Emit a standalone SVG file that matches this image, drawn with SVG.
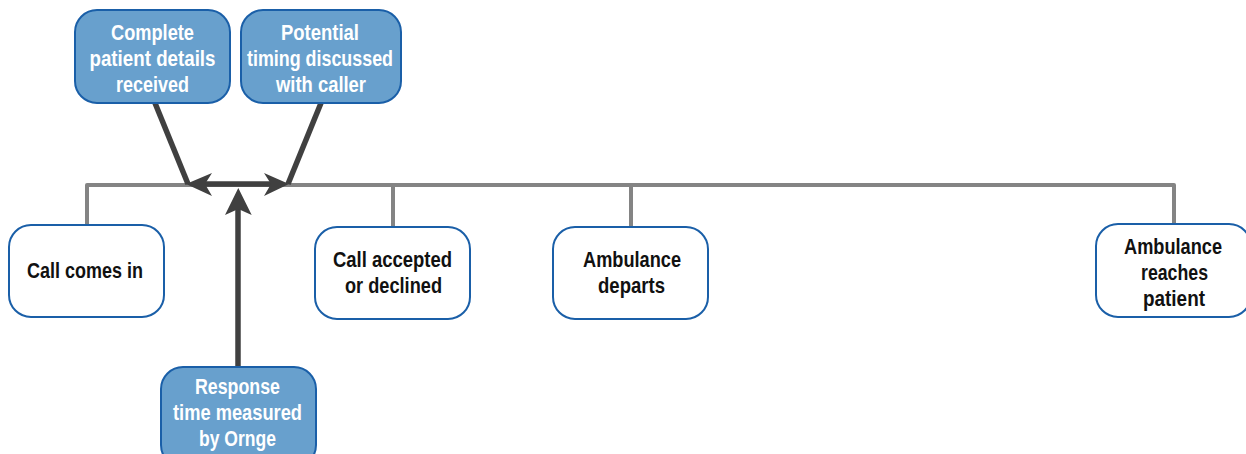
<svg xmlns="http://www.w3.org/2000/svg" width="1246" height="454" viewBox="0 0 1246 454">
<style>
.wb{fill:#ffffff;stroke:#1a5fa8;stroke-width:2}
.bb{fill:#68a0cd;stroke:#1a5fa8;stroke-width:2}
.t{font-family:"Liberation Sans",Arial,sans-serif;font-weight:bold;font-size:22px;text-anchor:middle}
.tk{fill:#111111}
.tw{fill:#ffffff}
.gl{fill:none;stroke:#848484;stroke-width:4;stroke-linejoin:round}
.dl{fill:none;stroke:#404040;stroke-width:5.5}
.ah{fill:#404040}
</style>
<g id="connectors">
<path class="gl" d="M87,225 V185 H1174 V224"/>
<path class="gl" d="M393,185 V227"/>
<path class="gl" d="M631,185 V227"/>
<path class="dl" d="M155,103 L188,184"/>
<path class="dl" d="M321,103 L288,184"/>
<path class="dl" d="M200,184 H276"/>
<path class="dl" d="M238,367 V205"/>
<path class="ah" d="M238.3,188 L225,215 L238.3,209 L251.7,215 Z"/>
<path class="ah" d="M186,184 L212,173 L205,184 L212,196 Z"/>
<path class="ah" d="M289,184 L264,173 L271,184 L264,196 Z"/>
</g>
<g id="node-complete">
<rect class="bb" x="75" y="10" width="155" height="93" rx="22"/>
<text class="t tw" x="152.5" y="40" textLength="83" lengthAdjust="spacingAndGlyphs">Complete</text>
<text class="t tw" x="152.5" y="66" textLength="126" lengthAdjust="spacingAndGlyphs">patient details</text>
<text class="t tw" x="152.5" y="92" textLength="73" lengthAdjust="spacingAndGlyphs">received</text>
</g>
<g id="node-timing">
<rect class="bb" x="241" y="10" width="160" height="93" rx="22"/>
<text class="t tw" x="320" y="40" textLength="78" lengthAdjust="spacingAndGlyphs">Potential</text>
<text class="t tw" x="320" y="66" textLength="146" lengthAdjust="spacingAndGlyphs">timing discussed</text>
<text class="t tw" x="321" y="92" textLength="90" lengthAdjust="spacingAndGlyphs">with caller</text>
</g>
<g id="node-call">
<rect class="wb" x="9" y="225" width="155" height="92" rx="22"/>
<text class="t tk" x="85" y="278" textLength="116" lengthAdjust="spacingAndGlyphs">Call comes in</text>
</g>
<g id="node-accepted">
<rect class="wb" x="315" y="227" width="155" height="92" rx="22"/>
<text class="t tk" x="392.5" y="267" textLength="119" lengthAdjust="spacingAndGlyphs">Call accepted</text>
<text class="t tk" x="393.5" y="293" textLength="97" lengthAdjust="spacingAndGlyphs">or declined</text>
</g>
<g id="node-departs">
<rect class="wb" x="553" y="227" width="155" height="92" rx="22"/>
<text class="t tk" x="632" y="267" textLength="98" lengthAdjust="spacingAndGlyphs">Ambulance</text>
<text class="t tk" x="631.5" y="293" textLength="67" lengthAdjust="spacingAndGlyphs">departs</text>
</g>
<g id="node-reaches">
<rect class="wb" x="1096" y="224" width="155" height="93" rx="22"/>
<text class="t tk" x="1173" y="254" textLength="98" lengthAdjust="spacingAndGlyphs">Ambulance</text>
<text class="t tk" x="1174.5" y="280" textLength="67" lengthAdjust="spacingAndGlyphs">reaches</text>
<text class="t tk" x="1174" y="306" textLength="62" lengthAdjust="spacingAndGlyphs">patient</text>
</g>
<g id="node-response">
<rect class="bb" x="161" y="367" width="155" height="100" rx="22"/>
<text class="t tw" x="237.5" y="394" textLength="85" lengthAdjust="spacingAndGlyphs">Response</text>
<text class="t tw" x="237.5" y="420" textLength="129" lengthAdjust="spacingAndGlyphs">time measured</text>
<text class="t tw" x="237.5" y="446" textLength="77" lengthAdjust="spacingAndGlyphs">by Ornge</text>
</g>
</svg>
